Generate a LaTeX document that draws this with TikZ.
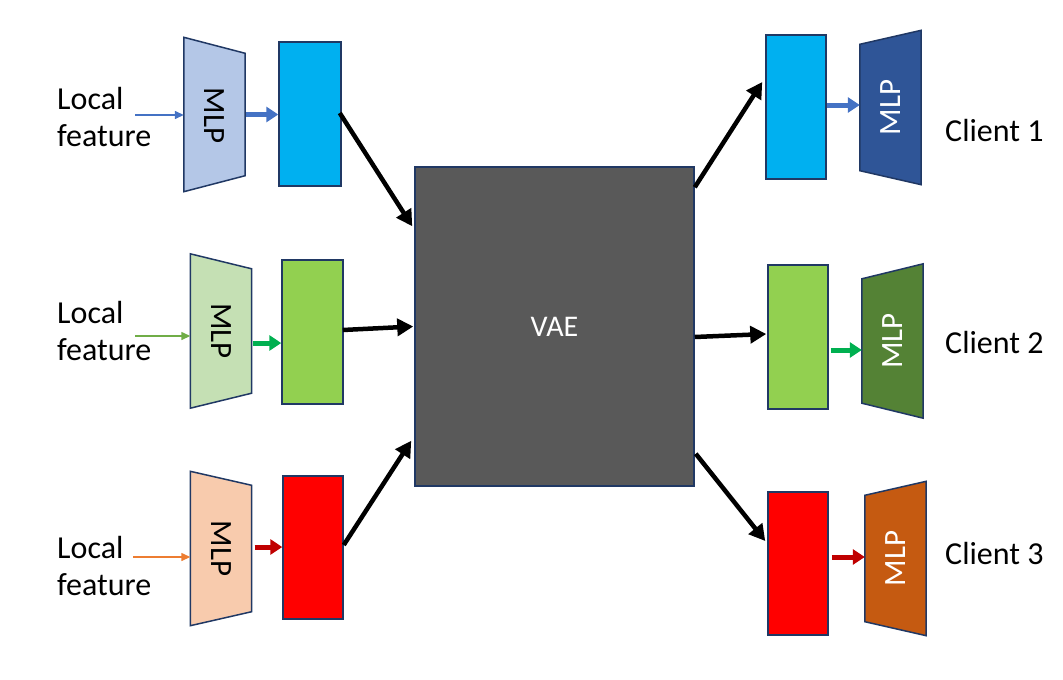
\documentclass[tikz,border=0pt]{standalone}
\usepackage{fontspec}
\setmainfont{Carlito}
\usetikzlibrary{arrows.meta,calc}
\definecolor{edgec}{HTML}{203864}
\definecolor{mlpA}{HTML}{B4C7E7}
\definecolor{mlpB}{HTML}{C5E0B4}
\definecolor{mlpC}{HTML}{F8CBAD}
\definecolor{mlpD}{HTML}{2F5597}
\definecolor{mlpE}{HTML}{548235}
\definecolor{mlpF}{HTML}{C55A11}
\definecolor{boxA}{HTML}{00B0F0}
\definecolor{boxB}{HTML}{92D050}
\definecolor{boxC}{HTML}{FF0000}
\definecolor{vaec}{HTML}{595959}
\definecolor{arA}{HTML}{4472C4}
\definecolor{arB}{HTML}{00B050}
\definecolor{arC}{HTML}{C00000}
\definecolor{inA}{HTML}{4472C4}
\definecolor{inB}{HTML}{70AD47}
\definecolor{inC}{HTML}{ED7D31}
\tikzset{
  txt/.style={font=\fontsize{32}{38}\selectfont, inner sep=0pt},
  mlptxt/.style={font=\fontsize{31}{37}\selectfont, inner sep=0pt},
  mlpnode/.style={minimum width=61pt, minimum height=154pt, inner sep=0pt},
  featbox/.style={draw=edgec, line width=1.5pt, minimum width=61pt, minimum height=144pt, inner sep=0pt},
  trap/.style={draw=edgec, line width=1.5pt, line join=miter},
  inarrow/.style={line width=1.4pt, -{Triangle[length=9pt,width=8pt]}},
  colarrow/.style={line width=5pt, -{Triangle[length=12pt,width=15pt]}},
  blkarrow/.style={line width=4.5pt, black, -{Triangle[length=16pt,width=17pt]}}
}
\begin{document}
\begin{tikzpicture}[x=1pt,y=-1pt]
\useasboundingbox (0,0) rectangle (1063,680);
% MLP nodes; trapezoids drawn from their anchors
\node[mlpnode] (m1) at (214.5,114.5) {};
\node[mlpnode] (m2) at (221,331) {};
\node[mlpnode] (m3) at (221,548.5) {};
\node[mlpnode] (m4) at (890.5,107.5) {};
\node[mlpnode] (m5) at (892.5,341) {};
\node[mlpnode] (m6) at (895.5,558.5) {};
% left trapezoids
\draw[trap, fill=mlpA] (m1.north west) -- ([yshift=-16pt]m1.north east) -- ([yshift=16pt]m1.south east) -- (m1.south west) -- cycle;
\draw[trap, fill=mlpB] (m2.north west) -- ([yshift=-15pt]m2.north east) -- ([yshift=15pt]m2.south east) -- (m2.south west) -- cycle;
\draw[trap, fill=mlpC] (m3.north west) -- ([yshift=-14pt]m3.north east) -- ([yshift=14pt]m3.south east) -- (m3.south west) -- cycle;
% right trapezoids
\draw[trap, fill=mlpD] ([yshift=-14pt]m4.north west) -- (m4.north east) -- (m4.south east) -- ([yshift=14pt]m4.south west) -- cycle;
\draw[trap, fill=mlpE] ([yshift=-15pt]m5.north west) -- (m5.north east) -- (m5.south east) -- ([yshift=15pt]m5.south west) -- cycle;
\draw[trap, fill=mlpF] ([yshift=-14pt]m6.north west) -- (m6.north east) -- (m6.south east) -- ([yshift=14pt]m6.south west) -- cycle;
% MLP labels
\node[mlptxt, rotate=-90] at ([yshift=-1pt]m1.center) {MLP};
\node[mlptxt, rotate=-90] at (m2.center) {MLP};
\node[mlptxt, rotate=-90] at (m3.center) {MLP};
\node[mlptxt, rotate=90, text=white] at (m4.center) {MLP};
\node[mlptxt, rotate=90, text=white] at (m5.center) {MLP};
\node[mlptxt, rotate=90, text=white] at (m6.center) {MLP};
% feature boxes
\node[featbox, fill=boxA, minimum width=62pt] (r1) at (310,114) {};
\node[featbox, fill=boxB] (r2) at (312.5,332) {};
\node[featbox, fill=boxC, minimum width=60pt, minimum height=143pt] (r3) at (313,547.5) {};
\node[featbox, fill=boxA, minimum width=60pt] (r4) at (796,107) {};
\node[featbox, fill=boxB, minimum width=60pt] (r5) at (798,337) {};
\node[featbox, fill=boxC, minimum width=60pt, minimum height=143pt] (r6) at (798,563.5) {};
% VAE
\node[draw=edgec, line width=1.5pt, fill=vaec, minimum width=279pt, minimum height=319pt, inner sep=0pt,
      text=white, font=\fontsize{30}{36}\selectfont] (vae) at (554.5,326.5) {VAE};
% left texts
\node[txt, anchor=base west] (t1a) at (57,109) {Local};
\node[txt, anchor=base west] (t1b) at (57,146) {feature};
\node[txt, anchor=base west] (t2a) at (57,323) {Local};
\node[txt, anchor=base west] (t2b) at (57,360) {feature};
\node[txt, anchor=base west] (t3a) at (57,558) {Local};
\node[txt, anchor=base west] (t3b) at (57,595) {feature};
% client texts
\node[txt, anchor=base west] (c1) at (945,141) {Client 1};
\node[txt, anchor=base west] (c2) at (945,353) {Client 2};
\node[txt, anchor=base west] (c3) at (945,564) {Client 3};
% input arrows
\coordinate (i1) at (135,115);
\coordinate (i2) at (135,336);
\coordinate (i3) at (133,557);
\draw[inarrow, inA] (i1) -- (i1 -| m1.west);
\draw[inarrow, inB] (i2) -- (i2 -| m2.west);
\draw[inarrow, inC] (i3) -- (i3 -| m3.west);
% MLP -> feature arrows (left)
\draw[colarrow, arA] ([xshift=1pt]m1.east) -- (m1.east -| r1.west);
\draw[colarrow, arB] ([xshift=1pt,yshift=-12pt]m2.east) -- ([yshift=-12pt]m2.east -| r2.west);
\draw[colarrow, arC] ([xshift=3pt,yshift=1.5pt]m3.east) -- ([yshift=1.5pt]m3.east -| r3.west);
% feature -> MLP arrows (right)
\draw[colarrow, arA] ([yshift=2pt]r4.east) -- ([yshift=2pt]r4.east -| m4.west);
\draw[colarrow, arB] ([xshift=2pt,yshift=-13pt]r5.east) -- ([yshift=-13pt]r5.east -| m5.west);
\draw[colarrow, arC] ([xshift=3pt,yshift=6.5pt]r6.east) -- ([yshift=6.5pt]r6.east -| m6.west);
% black arrows
\draw[blkarrow] ([xshift=-2pt,yshift=1pt]r1.east) -- ([xshift=-2pt,yshift=-60pt]vae.north west);
\draw[blkarrow] ([xshift=-1pt,yshift=2pt]r2.east) -- ([xshift=-1pt]vae.west);
\draw[blkarrow] ([yshift=2.5pt]r3.east) -- ([xshift=-3pt,yshift=46pt]vae.south west);
\draw[blkarrow] ([yshift=-21pt]vae.north east) -- ([xshift=-3pt,yshift=25pt]r4.west);
\draw[blkarrow] ([yshift=-10.5pt]vae.east) -- ([xshift=-1pt,yshift=3pt]r5.west);
\draw[blkarrow] ([xshift=1pt,yshift=33pt]vae.south east) -- ([xshift=-2pt,yshift=22.5pt]r6.west);
\end{tikzpicture}
\end{document}
